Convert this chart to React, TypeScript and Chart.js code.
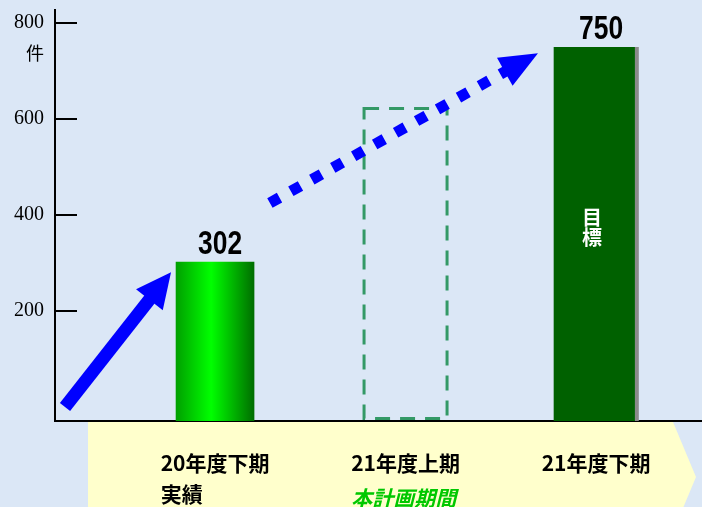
import React, { useEffect, useRef } from 'react';
import { Chart, registerables } from 'chart.js';

Chart.register(...registerables);

// ---- data ----
const categories = ['20年度下期', '21年度上期', '21年度下期'];
const subLabels = ['実績', '本計画期間', ''];
const categoryPositions = [1, 2, 3];
const barValues = [302, 625, 750]; // actual, plan-period outline, target
const valueLabels = ['302', '', '750'];
const targetText = ['目', '標'];
const yTickValues = [200, 400, 600, 800];
const yUnit = '件';
// arrows in data units: [x, y]
const solidArrow = [[0.2125, 0], [0.769, 281]];
const dottedArrow = [[1.288, 425], [2.695, 737]];

const Y_MIN = -29;
const Y_MAX = 827;
const X_MIN = 0.16;
const X_MAX = 3.556;

const CJK = '"Noto Sans CJK JP", "Noto Sans CJK SC", sans-serif';

function drawArrow(ctx: CanvasRenderingContext2D, x1: number, y1: number, x2: number, y2: number,
  width: number, headLen: number, headHalf: number, dash: number[] | null) {
  const dx = x2 - x1, dy = y2 - y1;
  const len = Math.hypot(dx, dy);
  const ux = dx / len, uy = dy / len;
  const px = -uy, py = ux;
  const bx = x2 - ux * headLen, by = y2 - uy * headLen;
  ctx.save();
  ctx.strokeStyle = '#0000ff';
  ctx.fillStyle = '#0000ff';
  ctx.lineWidth = width;
  ctx.lineCap = 'butt';
  if (dash) ctx.setLineDash(dash);
  ctx.beginPath();
  ctx.moveTo(x1, y1);
  ctx.lineTo(bx + ux * 2, by + uy * 2);
  ctx.stroke();
  ctx.setLineDash([]);
  ctx.beginPath();
  ctx.moveTo(x2, y2);
  ctx.lineTo(bx + px * headHalf, by + py * headHalf);
  ctx.lineTo(bx - px * headHalf, by - py * headHalf);
  ctx.closePath();
  ctx.fill();
  ctx.restore();
}

const decorPlugin = {
  id: 'decor',
  beforeDraw(chart: any) {
    const { ctx, width, height, chartArea } = chart;
    ctx.save();
    ctx.fillStyle = '#dbe7f6';
    ctx.fillRect(0, 0, width, height);
    // yellow label band with chevron
    const top = chartArea.bottom + 1;
    ctx.fillStyle = '#ffffcc';
    ctx.beginPath();
    ctx.moveTo(88, top);
    ctx.lineTo(673, top);
    ctx.lineTo(696, 477);
    ctx.lineTo(673, 532);
    ctx.lineTo(88, 532);
    ctx.closePath();
    ctx.fill();
    ctx.restore();
  },
  afterDatasetsDraw(chart: any) {
    const { ctx } = chart;
    const xs = chart.scales.x, ys = chart.scales.y;
    // dashed plan outline
    const el1 = chart.getDatasetMeta(1).data[0];
    if (el1) {
      ctx.save();
      ctx.strokeStyle = '#339966';
      ctx.lineWidth = 3;
      ctx.setLineDash([15, 10]);
      const l = el1.x - el1.width / 2 + 1.5;
      const r = el1.x + el1.width / 2 - 1.5;
      const t = el1.y + 1.5;
      const b = el1.base - 2.5;
      ctx.strokeRect(l, t, r - l, b - t);
      ctx.restore();
    }
    // value labels
    for (let i = 0; i < valueLabels.length; i++) {
      if (!valueLabels[i]) continue;
      const el = chart.getDatasetMeta(i).data[0];
      if (!el) continue;
      ctx.save();
      ctx.translate(el.x + 5, el.y - 8);
      ctx.scale(0.8, 1);
      ctx.font = 'bold 33px "Liberation Sans", Arial, sans-serif';
      ctx.fillStyle = '#000000';
      ctx.textAlign = 'center';
      ctx.textBaseline = 'alphabetic';
      ctx.fillText(valueLabels[i], 0, 0);
      ctx.restore();
    }
    // target text inside bar 3
    const el2 = chart.getDatasetMeta(2).data[0];
    if (el2) {
      ctx.save();
      ctx.font = 'bold 20px ' + CJK;
      ctx.fillStyle = '#ffffff';
      ctx.textAlign = 'center';
      ctx.textBaseline = 'middle';
      const mid = (el2.y + el2.base) / 2;
      const cx = el2.x - 4;
      ctx.fillText(targetText[0], cx, mid - 17);
      ctx.fillText(targetText[1], cx, mid + 3);
      ctx.restore();
    }
    // arrows
    drawArrow(ctx,
      xs.getPixelForValue(solidArrow[0][0]), ys.getPixelForValue(solidArrow[0][1]),
      xs.getPixelForValue(solidArrow[1][0]), ys.getPixelForValue(solidArrow[1][1]),
      13, 35, 17, null);
    drawArrow(ctx,
      xs.getPixelForValue(dottedArrow[0][0]), ys.getPixelForValue(dottedArrow[0][1]),
      xs.getPixelForValue(dottedArrow[1][0]), ys.getPixelForValue(dottedArrow[1][1]),
      11, 38, 16, [11, 13]);
  },
  afterDraw(chart: any) {
    const { ctx, chartArea } = chart;
    const ys = chart.scales.y, xs = chart.scales.x;
    ctx.save();
    // inward tick marks
    ctx.strokeStyle = '#000000';
    ctx.lineWidth = 2;
    ys.ticks.forEach((t: any) => {
      const y = Math.round(ys.getPixelForValue(t.value));
      ctx.beginPath();
      ctx.moveTo(chartArea.left, y);
      ctx.lineTo(chartArea.left + 22, y);
      ctx.stroke();
    });
    // unit
    ctx.font = '18px ' + CJK;
    ctx.fillStyle = '#000000';
    ctx.textAlign = 'center';
    ctx.textBaseline = 'middle';
    const top800 = ys.getPixelForValue(yTickValues[yTickValues.length - 1]);
    ctx.fillText(yUnit, 35, top800 + 30);
    // second line labels
    ctx.textAlign = 'left';
    for (let i = 0; i < categories.length; i++) {
      if (!subLabels[i]) continue;
      ctx.font = 'bold 21px ' + CJK;
      const w = ctx.measureText(categories[i]).width;
      const left = xs.getPixelForValue(categoryPositions[i]) - w / 2;
      if (i === 1) {
        ctx.font = 'italic bold 21px ' + CJK;
        ctx.fillStyle = '#00c800';
        ctx.fillText(subLabels[i], left, chartArea.bottom + 77);
      } else {
        ctx.fillStyle = '#000000';
        ctx.fillText(subLabels[i], left, chartArea.bottom + 73);
      }
    }
    ctx.restore();
  },
};

export default function App() {
  const ref = useRef<HTMLCanvasElement | null>(null);
  useEffect(() => {
    if (!ref.current) return;
    const chart = new Chart(ref.current, {
      type: 'bar',
      data: {
        datasets: [
          {
            data: [{ x: categoryPositions[0], y: barValues[0] }],
            barThickness: 78,
            base: Y_MIN,
            backgroundColor: (c: any) => {
              const ch = c.chart;
              const xs = ch.scales && ch.scales.x;
              if (!ch.chartArea || !xs) return '#00dd00';
              const cx = xs.getPixelForValue(categoryPositions[0]);
              const g = ch.ctx.createLinearGradient(cx - 39, 0, cx + 39, 0);
              g.addColorStop(0, '#00a000');
              g.addColorStop(0.45, '#00ff00');
              g.addColorStop(1, '#006e00');
              return g;
            },
            borderWidth: 0,
          },
          {
            data: [{ x: categoryPositions[1], y: barValues[1] }],
            barThickness: 86,
            base: Y_MIN,
            backgroundColor: 'rgba(0,0,0,0)',
            borderWidth: 0,
          },
          {
            data: [{ x: categoryPositions[2], y: barValues[2] }],
            barThickness: 85,
            base: Y_MIN,
            backgroundColor: '#006100',
            borderColor: '#8a8a8a',
            borderWidth: { top: 0, right: 4, bottom: 0, left: 0 },
            borderSkipped: false,
          },
        ] as any,
      },
      options: {
        animation: false,
        responsive: false,
        grouped: false,
        layout: { padding: { top: 10, left: 0, right: 0, bottom: 0 } },
        plugins: {
          legend: { display: false },
          tooltip: { enabled: false },
        },
        scales: {
          x: {
            type: 'linear',
            offset: false,
            min: X_MIN,
            max: X_MAX,
            grid: { display: false, drawTicks: false, offset: false },
            border: { display: true, color: '#000000', width: 2 },
            afterBuildTicks: (s: any) => {
              s.ticks = categoryPositions.map((v) => ({ value: v }));
            },
            afterFit: (s: any) => {
              s.height = 86;
              s.paddingLeft = 0;
              s.paddingRight = 0;
            },
            ticks: {
              autoSkip: false,
              maxRotation: 0,
              padding: 29,
              color: '#000000',
              font: { family: CJK, size: 21, weight: 'bold' },
              callback: (v: any) => {
                const i = categoryPositions.indexOf(Number(v));
                return i >= 0 ? categories[i] : '';
              },
            },
          },
          y: {
            type: 'linear',
            min: Y_MIN,
            max: Y_MAX,
            grid: { display: false, drawTicks: false },
            border: { display: true, color: '#000000', width: 2 },
            afterBuildTicks: (s: any) => {
              s.ticks = yTickValues.map((v) => ({ value: v }));
            },
            afterFit: (s: any) => {
              s.width = 55;
              s.paddingTop = 0;
              s.paddingBottom = 0;
            },
            ticks: {
              padding: 11,
              color: '#000000',
              font: { family: '"Liberation Serif", "Times New Roman", serif', size: 20 },
              callback: (v: any) => String(v),
            },
          },
        },
      } as any,
      plugins: [decorPlugin],
    });
    return () => chart.destroy();
  }, []);
  return (
    <div style={{ position: 'absolute', left: 0, top: 0, width: 702, height: 507, overflow: 'hidden' }}>
      <canvas ref={ref} width={702} height={507} style={{ display: 'block', width: 702, height: 507 }} />
    </div>
  );
}
